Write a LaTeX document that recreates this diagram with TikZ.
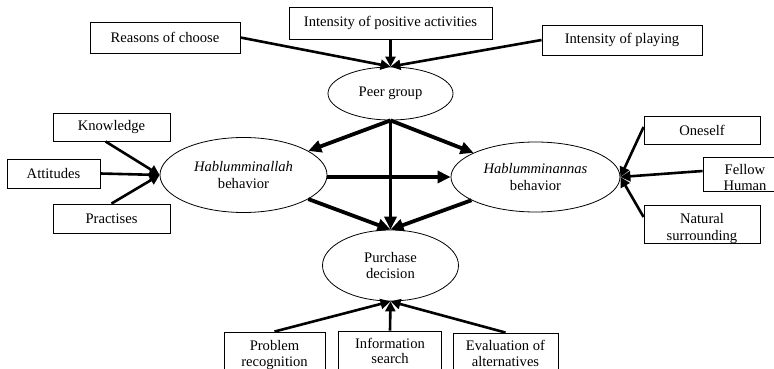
\documentclass[tikz,border=0pt]{standalone}
\usepackage{fontspec}
\setmainfont{Liberation Serif}
\usetikzlibrary{shapes.geometric,arrows.meta}
\begin{document}
\begin{tikzpicture}[x=1pt,y=-1pt,
  font=\fontsize{14.6}{16.8}\selectfont,
  box/.style={draw, line width=0.9pt, inner sep=0pt, align=center},
  ell/.style={draw, ellipse, line width=0.8pt, inner sep=0pt, align=center},
  cliptext/.style={draw=none, anchor=north, inner sep=0pt, outer sep=0pt, minimum width=0pt, minimum height=0pt, align=center, font=\fontsize{14.6}{16.8}\selectfont},
  lowtext/.style={cliptext, font=\fontsize{14.6}{15.4}\selectfont},
  thinarr/.style={line width=2.6pt, -{Triangle[length=10pt,width=10pt]}},
  thickarr/.style={line width=3.8pt, -{Triangle[length=13pt,width=12pt]}}
]
\useasboundingbox (0,0) rectangle (774,369);
\clip (0,0) rectangle (774,369);

% ellipses
\node[ell, minimum width=125pt, minimum height=53pt] (pg) at (390.5,93.5) {Peer group};
\node[ell, minimum width=167pt, minimum height=75pt] (hl) at (243.5,175) {\textit{Hablumminallah}\\behavior};
\node[ell, minimum width=169pt, minimum height=70pt] (hn) at (535.5,177) {\textit{Hablumminannas}\\behavior};
\node[ell, minimum width=136pt, minimum height=71pt] (pd) at (390.5,265.5) {Purchase\\decision};

% top boxes
\node[box, minimum width=150pt, minimum height=31pt] (rc) at (165,37.5) {Reasons of choose};
\node[box, minimum width=203pt, minimum height=32pt] (ipa) at (390.5,23) {Intensity of positive activities};
\node[box, minimum width=160pt, minimum height=30pt] (ipl) at (622,40) {Intensity of playing};

% left boxes
\node[box, minimum width=117pt, minimum height=28pt] (kn) at (111.5,127) {Knowledge};
\node[box, minimum width=93pt, minimum height=29pt] (at) at (53.5,173.5) {Attitudes};
\node[box, minimum width=117pt, minimum height=29pt] (pr) at (111.5,218.5) {Practises};

% right boxes
\node[box, minimum width=116pt, minimum height=28pt] (os) at (702,130) {Oneself};
\node[box, minimum width=84pt, minimum height=34pt,
  path picture={\node[cliptext] (fht) at ([yshift=-7pt]path picture bounding box.north) {Fellow\\Human};}] (fh) at (745,174) {};
\node[box, minimum width=116pt, minimum height=38pt,
  path picture={\node[cliptext] (nst) at ([yshift=-8.5pt]path picture bounding box.north) {Natural\\surrounding};}] (ns) at (702,224) {};

% bottom boxes
\node[box, minimum width=101pt, minimum height=50pt,
  path picture={\node[lowtext] (prbt) at ([yshift=-8.5pt]path picture bounding box.north) {Problem\\recognition};}] (prb) at (274.5,357) {};
\node[box, minimum width=103pt, minimum height=50pt,
  path picture={\node[lowtext] (ist) at ([yshift=-7pt]path picture bounding box.north) {Information\\search};}] (is) at (390,356) {};
\node[box, minimum width=105pt, minimum height=50pt,
  path picture={\node[lowtext] (evt) at ([yshift=-7.5pt]path picture bounding box.north) {Evaluation of\\alternatives};}] (ev) at (505.5,358) {};

% arrows into peer group
\draw[thinarr] (rc.east) -- (pg.north);
\draw[thinarr] (ipa.south) -- (pg.north);
\draw[thinarr] (ipl.west) -- (pg.north);

% central arrows
\draw[thickarr] (pg.south) -- (hl);
\draw[thickarr] (pg.south) -- (hn);
\draw[thickarr] (pg.south) -- (pd.north);
\draw[thickarr] (hl.east |- hn.west) -- (hn.west);
\draw[thickarr] (hl) -- (pd.north);
\draw[thickarr] (hn) -- (pd.north);

% left inputs
\draw[thinarr] ([xshift=-6pt]kn.south) -- (hl.west);
\draw[thinarr] (at.east) -- (hl.west);
\draw[thinarr] (pr.north) -- (hl.west);

% right inputs
\draw[thinarr] ([yshift=3pt]os.west) -- (hn.east);
\draw[thinarr] ([yshift=3pt]fh.west) -- (hn.east);
\draw[thinarr] ([yshift=7pt]ns.west) -- (hn.east);

% bottom inputs
\draw[thinarr] (prb.north) -- (pd.south);
\draw[thinarr] (is.north) -- (pd.south);
\draw[thinarr] (ev.north) -- (pd.south);
\end{tikzpicture}
\end{document}
